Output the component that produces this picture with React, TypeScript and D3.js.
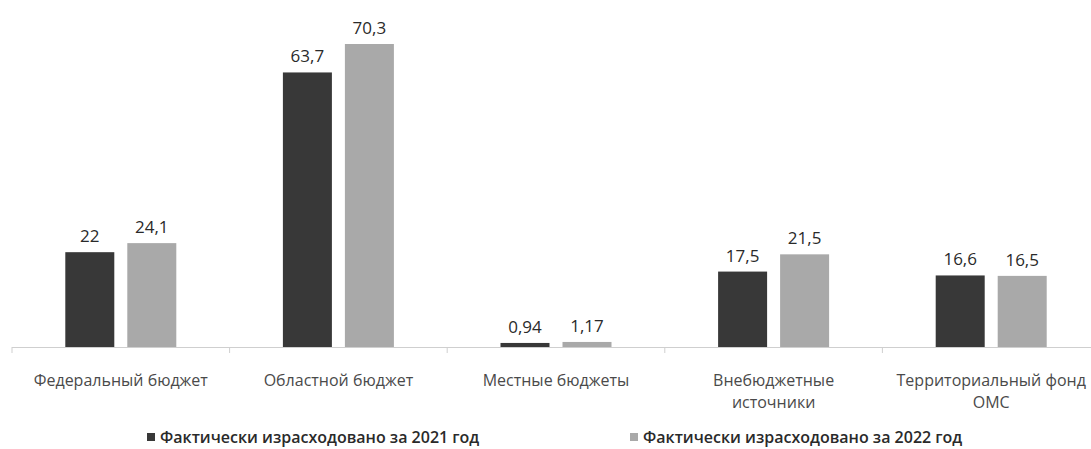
import React from "react";
import * as d3 from "d3";

const categories = [
  ["Федеральный бюджет"],
  ["Областной бюджет"],
  ["Местные бюджеты"],
  ["Внебюджетные", "источники"],
  ["Территориальный фонд", "ОМС"],
];
const series2021 = [22, 63.7, 0.94, 17.5, 16.6];
const series2022 = [24.1, 70.3, 1.17, 21.5, 16.5];
const labels2021 = ["22", "63,7", "0,94", "17,5", "16,6"];
const labels2022 = ["24,1", "70,3", "1,17", "21,5", "16,5"];
const seriesNames = [
  "Фактически израсходовано за 2021 год",
  "Фактически израсходовано за 2022 год",
];
const colors = ["#383838", "#a9a9a9"];

const W = 1091;
const H = 449;
const FONT = "'Open Sans', 'Noto Sans', sans-serif";

export default function App() {
  const baseY = 347;
  const step = 217.6;
  const x = d3
    .scaleBand<number>()
    .domain(d3.range(categories.length))
    .range([12, 12 + step * categories.length])
    .paddingInner(0)
    .paddingOuter(0);
  const y = d3.scaleLinear().domain([0, 70.3]).range([baseY, 44]);
  const series = [series2021, series2022];
  const labels = [labels2021, labels2022];
  const bw = 49;
  const gap = 13;

  return (
    <svg
      width={W}
      height={H}
      style={{ position: "absolute", left: 0, top: 0, background: "#fff" }}
      fontFamily={FONT}
    >
      {categories.map((_, i) => {
        const cx = (x(i) as number) + x.bandwidth() / 2;
        return series.map((s, k) => {
          const bx = cx - gap / 2 - bw + k * (bw + gap);
          const top = y(s[i]);
          return (
            <g key={`${i}-${k}`}>
              <rect
                x={bx}
                y={top}
                width={bw}
                height={Math.max(baseY - top, 1.5)}
                fill={colors[k]}
              />
              <text
                x={bx + bw / 2}
                y={top - 10}
                textAnchor="middle"
                fontSize={17}
                fill="#2a2a2a"
              >
                {labels[k][i]}
              </text>
            </g>
          );
        });
      })}
      <line x1={12} x2={W} y1={baseY + 0.5} y2={baseY + 0.5} stroke="#cfcfcf" strokeWidth={1.2} />
      {d3.range(categories.length + 1).map((i) => {
        const tx = 12 + step * i;
        return (
          <line key={i} x1={tx} x2={tx} y1={baseY} y2={baseY + 6} stroke="#cfcfcf" strokeWidth={1} />
        );
      })}
      {categories.map((lines, i) => {
        const cx = (x(i) as number) + x.bandwidth() / 2;
        return (
          <text key={i} textAnchor="middle" fontSize={16} fill="#4a4a4a">
            {lines.map((l, j) => (
              <tspan key={j} x={cx} y={386 + j * 22}>
                {l}
              </tspan>
            ))}
          </text>
        );
      })}
      {seriesNames.map((n, k) => {
        const lx = [147, 630][k];
        return (
          <g key={k}>
            <rect x={lx} y={433} width={8} height={8} fill={colors[k]} />
            <text x={lx + 13} y={443} fontSize={16} fill="#2a2a2a" fontWeight={600}>
              {n}
            </text>
          </g>
        );
      })}
    </svg>
  );
}
